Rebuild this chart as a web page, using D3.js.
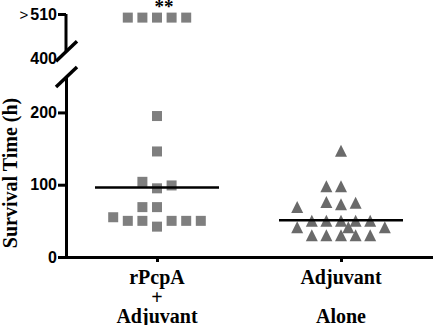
<!DOCTYPE html>
<html>
<head>
<style>
  body { margin: 0; background: #fff; }
  svg text { fill: #000; }
</style>
<script src="https://cdn.jsdelivr.net/npm/d3@7"></script>
</head>
<body>
<svg id="chart" width="433" height="325"></svg>
<script>
// groups and tick labels
var groups = ["rPcpA + Adjuvant", "Adjuvant Alone"];
var groupLines = [["rPcpA", "+", "Adjuvant"], ["Adjuvant", "", "Alone"]];
var lowTicks = [0, 100, 200];
var highTicks = [400, 510];

// rPcpA + Adjuvant (hours), with column slot for the scatter
var vaccValues = [195, 146, 104, 95, 99, 69, 69, 55, 50, 50, 42, 50, 50, 50];
var vaccSlots  = [0, 0, -1, 0, 1, -1, 0, -3, -2, -1, 0, 1, 2, 3];
// survivors (> 510 h)
var survValues = [501, 501, 501, 501, 501];
var survSlots  = [-2, -1, 0, 1, 2];

// Adjuvant Alone (hours)
var adjValues = [147, 98, 98, 69, 76, 73, 75, 50, 50, 50, 50, 50, 41, 41, 41, 30, 30, 30, 30, 30];
var adjSlots  = [0, -1, 0, -3, -1, 0, 1, -2, -1, 0, 1, 2, -3, 0.5, 3, -2, -1, 0, 1, 2];

var medians = [96, 51];

var svg = d3.select("#chart");

var x = d3.scalePoint().domain(groups).range([65, 433]).padding(0.5);
var slot = d3.scaleLinear().domain([-1, 1]).range([-14.6, 14.6]);
var yLow = d3.scaleLinear().domain([0, 249]).range([257, 77]);
var yHigh = d3.scaleLinear().domain([400, 510]).range([58, 14]);

// lower y axis
var gLow = svg.append("g").attr("transform", "translate(66,0)")
  .call(d3.axisLeft(yLow).tickValues(lowTicks).tickSize(8).tickSizeOuter(0).tickPadding(1));

// upper y axis
var gHigh = svg.append("g").attr("transform", "translate(66,0)")
  .call(d3.axisLeft(yHigh).tickValues(highTicks).tickSize(8).tickSizeOuter(0).tickPadding(1));
gHigh.select(".domain").attr("d", "M0," + yHigh(510) + "V" + yHigh(417));
gHigh.selectAll(".tick").filter(function(d){ return d === 400; }).select("line").remove();
var t510 = gHigh.selectAll(".tick").filter(function(d){ return d === 510; }).select("text");
t510.text(null);
t510.append("tspan").attr("font-weight", "normal").attr("font-size", 15).text(">");
t510.append("tspan").attr("dx", 2).text("510");

[gLow, gHigh].forEach(function(g){
  g.selectAll(".domain, .tick line").attr("stroke", "#000").attr("stroke-width", 3);
  g.selectAll(".tick text")
    .attr("font-family", "Liberation Sans, Arial, sans-serif")
    .attr("font-weight", "bold")
    .attr("font-size", 16);
});

// axis break slashes
var breaks = [yHigh(417), yLow(249)];
svg.append("g").selectAll("line").data(breaks).enter().append("line")
  .attr("x1", 56).attr("x2", 77)
  .attr("y1", function(d){ return d + 10; })
  .attr("y2", function(d){ return d - 10; })
  .attr("stroke", "#000").attr("stroke-width", 3.5);

// x axis
var gx = svg.append("g").attr("transform", "translate(0,257)")
  .call(d3.axisBottom(x).tickSize(5).tickSizeOuter(0).tickFormat(""));
gx.selectAll(".domain, .tick line").attr("stroke", "#000").attr("stroke-width", 3);

groupLines.forEach(function(lines, i){
  var t = svg.append("text")
    .attr("text-anchor", "middle")
    .attr("font-family", "Liberation Serif, Times New Roman, serif")
    .attr("font-weight", "bold")
    .attr("font-size", 20);
  lines.forEach(function(s, j){
    t.append("tspan").attr("x", x(groups[i])).attr("y", 284 + j * 19.5).text(s);
  });
});

// y title
svg.append("text")
  .attr("transform", "translate(17,173) rotate(-90)")
  .attr("text-anchor", "middle")
  .attr("font-family", "Liberation Serif, Times New Roman, serif")
  .attr("font-weight", "bold")
  .attr("font-size", 20)
  .text("Survival Time (h)");

// squares
var sq = 10;
var vacc = vaccValues.map(function(v, i){ return { y: yLow(v), s: vaccSlots[i] }; })
  .concat(survValues.map(function(v, i){ return { y: yHigh(v), s: survSlots[i] }; }));
svg.append("g").selectAll("rect").data(vacc).enter().append("rect")
  .attr("x", function(d){ return x(groups[0]) + slot(d.s) - sq / 2; })
  .attr("y", function(d){ return d.y - sq / 2; })
  .attr("width", sq).attr("height", sq)
  .attr("fill", "#7f7f7f");

// triangles
var tw = 12, th = 12;
svg.append("g").selectAll("path").data(adjValues).enter().append("path")
  .attr("d", function(d, i){
    var cx = x(groups[1]) + slot(adjSlots[i]), cy = yLow(d);
    return "M" + (cx - tw / 2) + "," + (cy + th / 2) + "L" + cx + "," + (cy - th / 2) + "L" + (cx + tw / 2) + "," + (cy + th / 2) + "Z";
  })
  .attr("fill", "#6a6a6a");

// medians
svg.append("g").selectAll("line").data(medians).enter().append("line")
  .attr("x1", function(d, i){ return x(groups[i]) - 62; })
  .attr("x2", function(d, i){ return x(groups[i]) + 62; })
  .attr("y1", function(d){ return yLow(d); })
  .attr("y2", function(d){ return yLow(d); })
  .attr("stroke", "#000").attr("stroke-width", 2.5);

// significance
svg.append("text")
  .attr("x", x(groups[0]) + 7).attr("y", 13)
  .attr("text-anchor", "middle")
  .attr("font-family", "Liberation Serif, Times New Roman, serif")
  .attr("font-weight", "bold")
  .attr("font-size", 19)
  .text("**");
</script>
</body>
</html>
